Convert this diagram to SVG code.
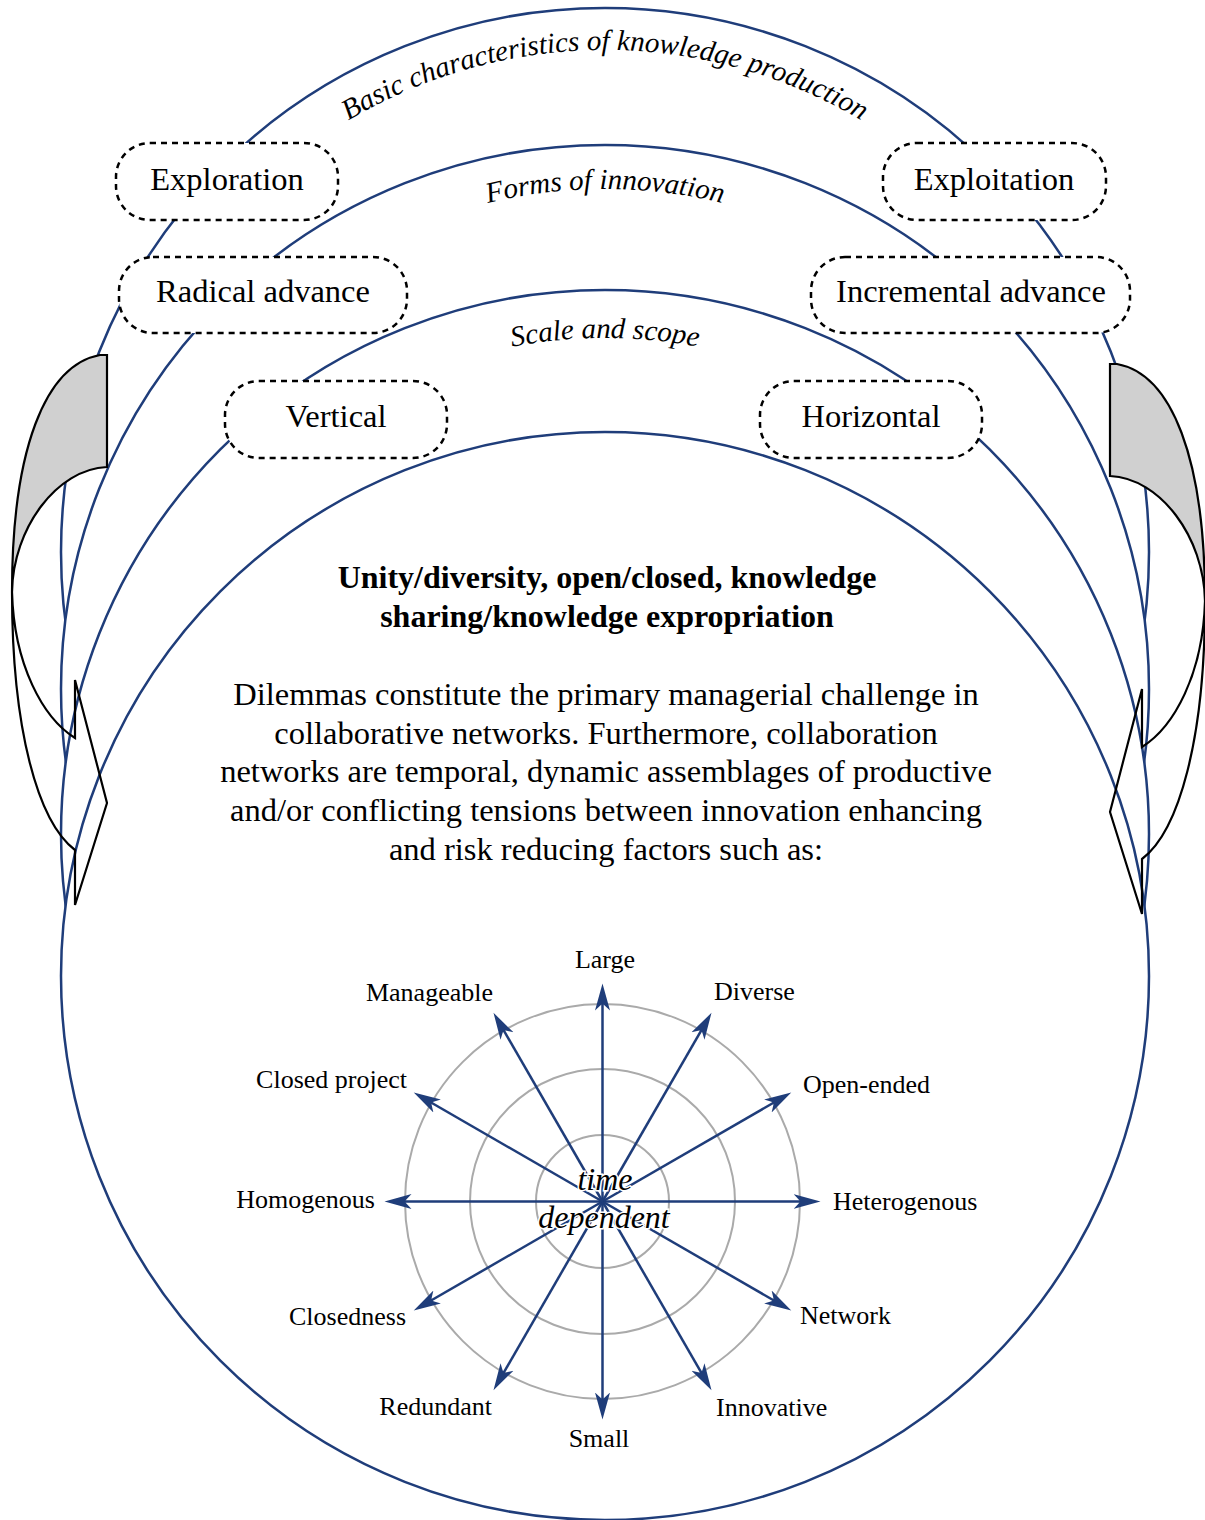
<svg xmlns="http://www.w3.org/2000/svg" width="1205" height="1520" viewBox="0 0 1205 1520">
<style>
.ring{fill:#fff;stroke:#1f3d7a;stroke-width:2.5}
.box{fill:#fff;stroke:#000;stroke-width:2.5;stroke-dasharray:6 5}
.bt{font-family:"Liberation Serif",serif;font-size:32.5px;text-anchor:middle;fill:#000}
.arc{font-family:"Liberation Serif",serif;font-style:italic;font-size:29px;fill:#000}
.lbl{font-family:"Liberation Serif",serif;font-size:26px;fill:#000}
.ttl{font-family:"Liberation Serif",serif;font-size:32px;font-weight:bold;text-anchor:middle;fill:#000}
.body{font-family:"Liberation Serif",serif;font-size:32.5px;text-anchor:middle;fill:#000}
.td{font-family:"Liberation Serif",serif;font-style:italic;font-size:32px;text-anchor:middle;fill:#000;stroke:#fff;stroke-width:3;paint-order:stroke}
.grid{fill:none;stroke:#aaa;stroke-width:2}
.ax{stroke:#1f3d7a;stroke-width:2.5;marker-end:url(#ah)}
.arr{fill:none;stroke:#000;stroke-width:2.2;stroke-linejoin:miter}
.shade{fill:#d0d0d0;stroke:#000;stroke-width:2.2;stroke-linejoin:miter}
</style>
<defs>
<path id="pBasic" d="M103,552 A502,502 0 0 1 1107,552"/>
<path id="pForms" d="M105,689 A500,500 0 0 1 1105,689"/>
<path id="pScale" d="M109,834 A496,496 0 0 1 1101,834"/>
<marker id="ah" markerUnits="userSpaceOnUse" viewBox="0 0 28 16" markerWidth="28" markerHeight="16" refX="17" refY="8" orient="auto">
<path d="M0,0.5 L27,8 L0,15.5 L7,8 Z" fill="#1f3d7a"/>
</marker>
<g id="curvedArrow">
<path class="shade" d="M100,355 L107,355 L107,467 C57,469 13,528 12,592 C12,450 45,365 100,355 Z"/>
<path class="arr" d="M12,592 C14,665 43,718 75,738 L75,680 L107,803 L75,905 L75,850 C38,822 12,730 12,592"/>
</g>
</defs>

<g id="ring-basic">
<circle class="ring" cx="605" cy="552" r="544"/>
<text class="arc"><textPath href="#pBasic" startOffset="50%" text-anchor="middle">Basic characteristics of knowledge production</textPath></text>
</g>
<g id="ring-forms">
<circle class="ring" cx="605" cy="689" r="544"/>
<text class="arc"><textPath href="#pForms" startOffset="50%" text-anchor="middle">Forms of innovation</textPath></text>
</g>
<g id="ring-scale">
<circle class="ring" cx="605" cy="834" r="544"/>
<text class="arc"><textPath href="#pScale" startOffset="50%" text-anchor="middle">Scale and scope</textPath></text>
</g>
<g id="ring-core">
<circle class="ring" cx="605" cy="976" r="544"/>
<text class="ttl" x="607" y="588">Unity/diversity, open/closed, knowledge</text>
<text class="ttl" x="607" y="627">sharing/knowledge expropriation</text>
<text class="body" x="606" y="705">Dilemmas constitute the primary managerial challenge in</text>
<text class="body" x="606" y="744">collaborative networks. Furthermore, collaboration</text>
<text class="body" x="606" y="782">networks are temporal, dynamic assemblages of productive</text>
<text class="body" x="606" y="821">and/or conflicting tensions between innovation enhancing</text>
<text class="body" x="606" y="860">and risk reducing factors such as:</text>
</g>

<g id="box-exploration">
<rect class="box" x="116" y="143" width="222" height="77" rx="34"/>
<text class="bt" x="227" y="190">Exploration</text>
</g>
<g id="box-radical">
<rect class="box" x="119" y="257" width="288" height="76" rx="34"/>
<text class="bt" x="263" y="302">Radical advance</text>
</g>
<g id="box-vertical">
<rect class="box" x="225" y="381" width="222" height="77" rx="34"/>
<text class="bt" x="336" y="427">Vertical</text>
</g>
<g id="box-exploitation">
<rect class="box" x="883" y="143" width="223" height="77" rx="34"/>
<text class="bt" x="994" y="190">Exploitation</text>
</g>
<g id="box-incremental">
<rect class="box" x="811" y="257" width="319" height="76" rx="34"/>
<text class="bt" x="971" y="302">Incremental advance</text>
</g>
<g id="box-horizontal">
<rect class="box" x="760" y="381" width="222" height="77" rx="34"/>
<text class="bt" x="871" y="427">Horizontal</text>
</g>

<g id="arrow-left">
<use href="#curvedArrow"/>
</g>
<g id="arrow-right">
<use href="#curvedArrow" transform="translate(1217,9) scale(-1,1)"/>
</g>

<g id="radar-grid">
<circle class="grid" cx="602.5" cy="1201.5" r="66.5"/>
<circle class="grid" cx="602.5" cy="1201.5" r="132.5"/>
<circle class="grid" cx="602.5" cy="1201.5" r="197.5"/>
</g>

<g id="connectors">
<line class="ax" x1="602.5" y1="1201.5" x2="602.5" y2="993.5"/>
<line class="ax" x1="602.5" y1="1201.5" x2="706.5" y2="1021.4"/>
<line class="ax" x1="602.5" y1="1201.5" x2="782.6" y2="1097.5"/>
<line class="ax" x1="602.5" y1="1201.5" x2="810.5" y2="1201.5"/>
<line class="ax" x1="602.5" y1="1201.5" x2="782.6" y2="1305.5"/>
<line class="ax" x1="602.5" y1="1201.5" x2="706.5" y2="1381.6"/>
<line class="ax" x1="602.5" y1="1201.5" x2="602.5" y2="1409.5"/>
<line class="ax" x1="602.5" y1="1201.5" x2="498.5" y2="1381.6"/>
<line class="ax" x1="602.5" y1="1201.5" x2="422.4" y2="1305.5"/>
<line class="ax" x1="602.5" y1="1201.5" x2="394.5" y2="1201.5"/>
<line class="ax" x1="602.5" y1="1201.5" x2="422.4" y2="1097.5"/>
<line class="ax" x1="602.5" y1="1201.5" x2="498.5" y2="1021.4"/>
</g>

<g id="radar-center">
<text class="td" x="605" y="1190">time</text>
<text class="td" x="604" y="1228">dependent</text>
</g>

<g id="radar-labels">
<text class="lbl" x="605" y="968" text-anchor="middle">Large</text>
<text class="lbl" x="714" y="1000">Diverse</text>
<text class="lbl" x="803" y="1093">Open-ended</text>
<text class="lbl" x="833" y="1210">Heterogenous</text>
<text class="lbl" x="800" y="1324">Network</text>
<text class="lbl" x="716" y="1416">Innovative</text>
<text class="lbl" x="599" y="1447" text-anchor="middle">Small</text>
<text class="lbl" x="492" y="1415" text-anchor="end">Redundant</text>
<text class="lbl" x="406" y="1325" text-anchor="end">Closedness</text>
<text class="lbl" x="375" y="1208" text-anchor="end">Homogenous</text>
<text class="lbl" x="407" y="1088" text-anchor="end">Closed project</text>
<text class="lbl" x="493" y="1001" text-anchor="end">Manageable</text>
</g>
</svg>
